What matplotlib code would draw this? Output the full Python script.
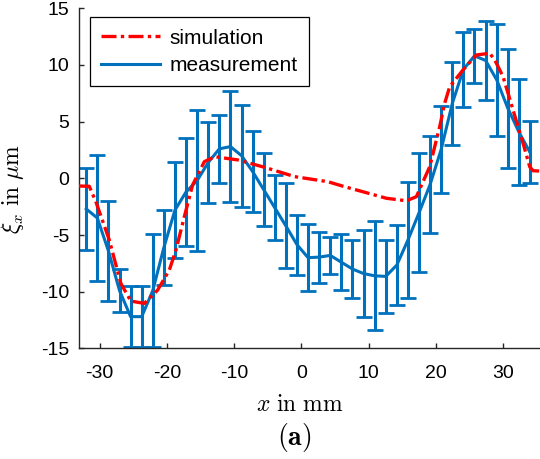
import numpy as np
import matplotlib
matplotlib.use('Agg')
import matplotlib.pyplot as plt
from matplotlib.lines import Line2D

plt.rcParams['font.family'] = ['Liberation Sans', 'DejaVu Sans']
plt.rcParams['mathtext.fontset'] = 'cm'
plt.rcParams['axes.unicode_minus'] = False

# measurement (mean and error)
x_meas = [-32.0, -30.35, -28.7, -27.05, -25.4, -23.75, -22.1, -20.45, -18.8, -17.15,
          -15.5, -13.85, -12.2, -10.55, -8.9, -7.25, -5.6, -3.95, -2.3, -0.65,
          1.0, 2.65, 4.3, 5.95, 7.6, 9.25, 10.9, 12.55, 14.2, 15.85,
          17.5, 19.15, 20.8, 22.45, 24.1, 25.75, 27.4, 29.05, 30.7, 32.35, 34.0]
y_meas = [-2.7, -3.5, -6.4, -9.9, -12.2, -12.2, -9.9, -6.1, -2.8, -1.2,
          -0.2, 1.4, 2.6, 2.8, 2.0, 0.6, -1.0, -2.6, -4.2, -5.85,
          -7.0, -6.95, -6.8, -7.4, -8.0, -8.4, -8.6, -8.65, -7.65, -5.45,
          -3.05, -0.55, 2.55, 6.6, 9.6, 10.8, 10.4, 8.7, 6.2, 4.1, 2.3]
err_meas = [3.6, 5.6, 4.4, 1.9, 2.7, 2.7, 5.0, 3.3, 4.2, 4.8,
            6.2, 3.6, 3.0, 4.9, 4.5, 3.6, 3.2, 2.85, 3.75, 2.65,
            2.95, 2.25, 1.65, 2.45, 2.55, 3.85, 4.8, 3.2, 3.55, 5.15,
            5.25, 4.3, 3.85, 3.65, 3.3, 2.35, 3.5, 4.95, 5.25, 4.7, 2.75]

# simulation
x_sim = [-33.1, -31.55, -30.57, -28.57, -26.85, -25.36, -23.36, -21.38, -19.64, -18.66,
         -17.41, -16.18, -14.43, -12.9, -9.43, -5.46, -1.0, 3.96, 6.44, 10.9,
         12.65, 15.63, 17.11, 19.09, 20.58, 21.32, 22.07, 24.05, 26.04, 28.02,
         28.77, 30.0, 31.49, 32.98, 33.97, 34.46, 35.5]
y_sim = [-0.68, -0.7, -2.06, -5.44, -9.27, -10.83, -11.03, -9.86, -8.09, -6.33,
         -3.39, -0.59, 1.47, 1.91, 1.62, 0.97, 0.15, -0.3, -0.74, -1.47,
         -1.76, -1.98, -1.62, 1.02, 4.55, 6.62, 8.08, 9.56, 10.88, 11.03,
         10.44, 8.97, 6.03, 3.09, 1.02, 0.67, 0.64]

blue = '#0072BD'
axcol = '#262626'
sim_style = (0, (4.5, 1.3, 1.0, 1.3))

fig = plt.figure(figsize=(5.4, 4.59), dpi=100)
ax = fig.add_axes([0.146, 0.241, 0.854, 0.741])

ax.plot(x_sim, y_sim, color='red', lw=2.4, linestyle=sim_style, zorder=3)
ax.errorbar(x_meas, y_meas, yerr=err_meas, color=blue, lw=2.2, elinewidth=2.2,
            capsize=5.5, capthick=2.0, zorder=2)

ax.set_xlim(-33.1, 35.5)
ax.set_ylim(-15, 15)
ax.set_xticks([-30, -20, -10, 0, 10, 20, 30])
ax.set_yticks([-15, -10, -5, 0, 5, 10, 15])
ax.spines['top'].set_visible(False)
ax.spines['right'].set_visible(False)
for s in ('left', 'bottom'):
    ax.spines[s].set_color(axcol)
    ax.spines[s].set_linewidth(1.0)
ax.tick_params(direction='in', length=3.5, width=1.0, color=axcol,
               labelsize=14, labelcolor='black')
ax.tick_params(axis='x', pad=12)
ax.tick_params(axis='y', pad=7)

ax.set_xlabel(r'$x\ \mathrm{in\ mm}$', fontsize=17)
ax.xaxis.set_label_coords(0.48, -0.135)
ax.set_ylabel(r'$\xi_x\ \mathrm{in}\ \mu\mathrm{m}$', fontsize=17)
ax.yaxis.set_label_coords(-0.115, 0.47)
fig.text(0.545, 0.046, r'$\mathbf{(a)}$', fontsize=20, ha='center', va='center')

handles = [Line2D([], [], color='red', lw=2.4, linestyle=sim_style),
           Line2D([], [], color=blue, lw=2.2)]
leg = ax.legend(handles, ['simulation', 'measurement'], loc='upper left',
                bbox_to_anchor=(0.024, 0.974), borderaxespad=0,
                fontsize=15, handlelength=2.8, handletextpad=0.45, labelspacing=0.4,
                borderpad=0.55, fancybox=False, framealpha=1, edgecolor='black')
leg.get_frame().set_linewidth(0.9)

fig.savefig('out.png', dpi=100)
